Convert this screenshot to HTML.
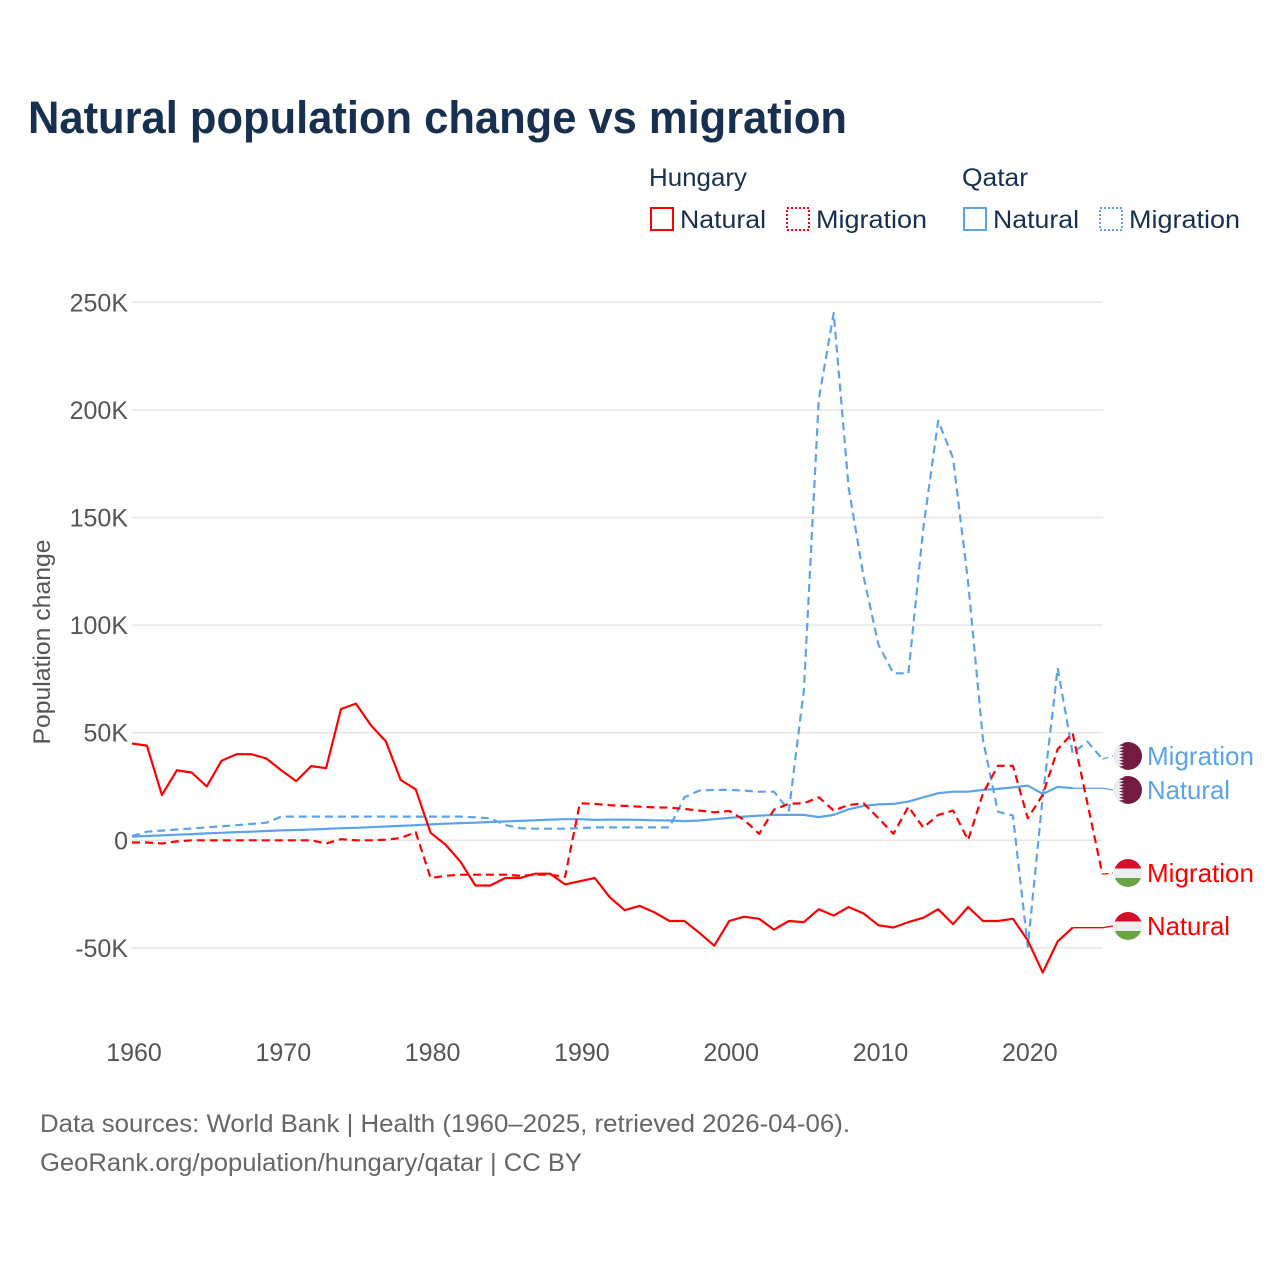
<!DOCTYPE html>
<html><head><meta charset="utf-8"><style>
html,body{margin:0;padding:0;background:#fff;}
svg{display:block;font-family:"Liberation Sans",sans-serif;}
</style></head><body>
<svg id="chart" width="1280" height="1280" viewBox="0 0 1280 1280" xmlns="http://www.w3.org/2000/svg">
<text x="28" y="133" font-size="45" font-weight="bold" fill="#17304f" textLength="819" lengthAdjust="spacingAndGlyphs">Natural population change vs migration</text>
<g font-size="25" fill="#17304f">
<text x="649" y="186" textLength="98" lengthAdjust="spacingAndGlyphs">Hungary</text>
<text x="962" y="186" textLength="66" lengthAdjust="spacingAndGlyphs">Qatar</text>
<g><rect x="651" y="208" width="22" height="22" fill="none" stroke="#ff0000" stroke-width="2"/><text x="680" y="228" textLength="86" lengthAdjust="spacingAndGlyphs">Natural</text></g>
<g><rect x="787" y="208" width="22" height="22" fill="none" stroke="#ff0000" stroke-width="2" stroke-dasharray="2,2"/><text x="816" y="228" textLength="111" lengthAdjust="spacingAndGlyphs">Migration</text></g>
<g><rect x="964" y="208" width="22" height="22" fill="none" stroke="#5ba3ea" stroke-width="2"/><text x="993" y="228" textLength="86" lengthAdjust="spacingAndGlyphs">Natural</text></g>
<g><rect x="1100" y="208" width="22" height="22" fill="none" stroke="#5ba3ea" stroke-width="2" stroke-dasharray="2,2"/><text x="1129" y="228" textLength="111" lengthAdjust="spacingAndGlyphs">Migration</text></g>
</g>
<text transform="translate(50,642) rotate(-90)" text-anchor="middle" font-size="24" fill="#555" textLength="205" lengthAdjust="spacingAndGlyphs">Population change</text>
<g id="grid"></g>
<g id="yticks" font-size="25" fill="#555" text-anchor="end"></g>
<g id="xticks" font-size="25" fill="#555" text-anchor="middle"></g>
<g id="series"></g>
<g id="labels" font-size="26"></g>
<text x="40" y="1132" font-size="25" fill="#666" textLength="810" lengthAdjust="spacingAndGlyphs">Data sources: World Bank | Health (1960–2025, retrieved 2026-04-06).</text>
<text x="40" y="1171" font-size="25" fill="#666" textLength="542" lengthAdjust="spacingAndGlyphs">GeoRank.org/population/hungary/qatar | CC BY</text>
</svg>
<script>
const startYear = 1960;
const yTicks = [-50, 0, 50, 100, 150, 200, 250];
const yTickLabels = ["-50K", "0", "50K", "100K", "150K", "200K", "250K"];
const xTicks = [1960, 1970, 1980, 1990, 2000, 2010, 2020];
const hungaryNatural = [45,44,21,32.5,31.5,25,37,40,40,38,32.5,27.5,34.5,33.5,61,63.5,53.5,46,28,23.7,3.5,-2,-10,-21,-21,-17.5,-17.5,-15.5,-15.5,-20.5,-19,-17.5,-26.5,-32.5,-30.5,-33.5,-37.5,-37.5,-43,-49,-37.5,-35.5,-36.5,-41.5,-37.5,-38,-32,-35,-31,-34,-39.5,-40.5,-38,-36,-32,-39,-31,-37.5,-37.5,-36.5,-46.5,-61.5,-47,-40.6];
const hungaryMigration = [-1,-1,-1.5,-0.5,0,0,0,0,0,0,0,0,0,-1.5,0.5,0,0,0.3,1,3.8,-17.5,-16.5,-16,-16,-16,-16,-16.5,-16,-16,-17,17.2,16.9,16.3,16,15.6,15.3,15.2,14.6,13.8,13,13.6,9.5,3,14.2,17,17.2,20,13.8,16.4,17.2,10.2,3,15.6,5.9,11.8,13.8,0.1,21.8,34.6,34.6,10.2,21.1,42.4,49.8,17,-15.7];
const qatarNatural = [1.7,2,2.3,2.6,2.9,3.2,3.5,3.8,4,4.3,4.6,4.8,5,5.3,5.6,5.8,6.1,6.4,6.7,7,7.4,7.7,8,8.2,8.5,8.8,9,9.3,9.6,9.8,9.8,9.5,9.6,9.6,9.5,9.3,9.2,8.9,9.2,9.8,10.4,11,11.5,11.8,11.8,11.8,10.8,11.8,14.4,16,16.7,16.9,18,20,21.9,22.6,22.6,23.4,23.9,24.6,25.4,21.5,24.8,24.2];
const qatarMigration = [2,4,4.5,5,5.5,6,6.5,7,7.6,8.2,11,11,11,11,11,11,11,11,11,11,11,11,11,10.7,10.2,7.1,5.6,5.4,5.4,5.4,5.6,6,6,6,6,6,6,20,23.1,23.4,23.4,23.1,22.6,22.6,13.8,70,205,245,164,122.5,90.8,77.6,77.6,145,195,177.5,120,46.5,13.3,11.5,-49.5,20,80,40.5,45.8,37.8];
const labelYs = {qm:756, qn:790, hm:873, hn:926};

const svg = document.getElementById('chart');
const NS = 'http://www.w3.org/2000/svg';
const x0 = 132, pxYear = 14.93, y0 = 840.3, pxK = 2.152, xEnd = 1103;
function xs(year){ return x0 + (year - startYear) * pxYear; }
function ys(v){ return y0 - v * pxK; }
function mk(tag, attrs, parent){ const e = document.createElementNS(NS, tag); for (const k in attrs) e.setAttribute(k, attrs[k]); parent.appendChild(e); return e; }

const grid = document.getElementById('grid');
const yt = document.getElementById('yticks');
yTicks.forEach((v, i) => {
  const l = mk('line', {x1: x0, x2: xEnd, y1: ys(v), y2: ys(v), stroke: '#e6e6e6', 'stroke-width': 1.5}, grid);
  
  
  const t = mk('text', {x: 128, y: ys(v) + 9}, yt);
  t.textContent = yTickLabels[i];
  
  
});
const xt = document.getElementById('xticks');
xTicks.forEach(yr => {
  const t = mk('text', {x: xs(yr) + 2, y: 1061}, xt);
  t.textContent = String(yr);
  
  
});

const ser = document.getElementById('series');
function drawSeries(vals, color, dashed, name, labelY){
  const pts = vals.map((v, i) => xs(startYear + i).toFixed(1) + ',' + ys(v).toFixed(1));
  const last = vals.length - 1;
  const lx = xs(startYear + last), ly = ys(vals[last]);
  const c = mk('polyline', {points: lx + ',' + ly + ' ' + xEnd + ',' + ly + ' ' + (xEnd + 10) + ',' + labelY, fill: 'none', stroke: color, 'stroke-width': 1.3, 'stroke-dasharray': dashed ? '6,4' : 'none'}, ser);
  
  
  const p = mk('polyline', {points: pts.join(' '), fill: 'none', stroke: color, 'stroke-width': 2.2, 'stroke-linejoin': 'round', 'stroke-dasharray': dashed ? '8,5' : 'none'}, ser);
  
  
}
drawSeries(qatarMigration, '#5ba3ea', true, 'qatar-migration', labelYs.qm);
drawSeries(qatarNatural, '#5ba3ea', false, 'qatar-natural', labelYs.qn);
drawSeries(hungaryMigration, '#ff0000', true, 'hungary-migration', labelYs.hm);
drawSeries(hungaryNatural, '#ff0000', false, 'hungary-natural', labelYs.hn);

const lab = document.getElementById('labels');
function flag(cx, cy, country, name){
  const g = mk('g', {}, lab);
  
  
  const id = 'clip' + name;
  const cp = mk('clipPath', {id: id}, g);
  mk('circle', {cx: cx, cy: cy, r: 14}, cp);
  const inner = mk('g', {'clip-path': 'url(#' + id + ')'}, g);
  if (country === 'hu') {
    mk('rect', {x: cx-14, y: cy-14, width: 28, height: 10, fill: '#d2102c'}, inner);
    mk('rect', {x: cx-14, y: cy-4.5, width: 28, height: 9.5, fill: '#eeeeee'}, inner);
    mk('rect', {x: cx-14, y: cy+5, width: 28, height: 10, fill: '#6aa342'}, inner);
  } else {
    mk('rect', {x: cx-14, y: cy-14, width: 28, height: 28, fill: '#731b42'}, inner);
    let d = 'M' + (cx-14) + ',' + (cy-14);
    for (let i = 0; i < 9; i++) { const yy = cy - 14 + i * 28/9; d += ' L' + (cx-9) + ',' + yy + ' L' + (cx-4) + ',' + (yy + 14/9); }
    d += ' L' + (cx-9) + ',' + (cy+14) + ' L' + (cx-14) + ',' + (cy+14) + ' Z';
    mk('path', {d: d, fill: '#eeeeee'}, inner);
  }
}
function label(y, text, color, country, name, w){
  flag(1128, y, country, name + '-flag');
  const t = mk('text', {x: 1147, y: y + 9, fill: color, textLength: w, lengthAdjust: 'spacingAndGlyphs'}, lab);
  t.textContent = text;
  
  
}
label(labelYs.qm, 'Migration', '#5ba3ea', 'qa', 'qatar-migration', 107);
label(labelYs.qn, 'Natural', '#5ba3ea', 'qa', 'qatar-natural', 83);
label(labelYs.hm, 'Migration', '#ff0000', 'hu', 'hungary-migration', 107);
label(labelYs.hn, 'Natural', '#ff0000', 'hu', 'hungary-natural', 83);
</script>
</body></html>
